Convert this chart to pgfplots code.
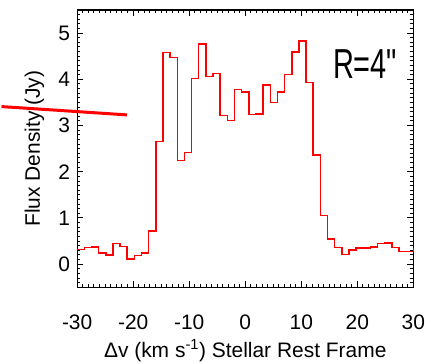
\documentclass[border=0pt]{standalone}
\usepackage{fontspec}
\setmainfont{Liberation Sans}
\newfontfamily\plainfont{Liberation Sans}
\usepackage{graphicx}
\usepackage{pgfplots}
\pgfplotsset{compat=1.18}
\begin{document}
\fontsize{21}{25}\selectfont
\begin{tikzpicture}
\begin{axis}[
 set layers,
 width=337pt, height=278pt, scale only axis,
 xmin=-30, xmax=30, ymin=-0.5, ymax=5.5,
 xtick={-30,-20,...,30}, xticklabels={-30,-20,-10,0,10,20,30},
 ytick={0,1,2,3,4,5}, yticklabels={0,1,2,3,4,5},
 minor xtick={-30,-29,...,30},
 minor ytick={-0.5,-0.4,...,5.5},
 tick align=inside, tick pos=both,
 major tick length=6pt, minor tick length=3pt,
 axis line style={line width=1.2pt},
 every tick/.style={black, line width=1pt},
 clip=false,
 xlabel={Δv (km s\textsuperscript{-1}) Stellar Rest Frame},
 ylabel={Flux Density (Jy)},
 ticklabel style={font=\fontsize{21}{25}\selectfont},
 xticklabel style={yshift=-20pt, inner xsep=0pt},
 label style={font=\fontsize{21}{25}\selectfont},
 xlabel style={inner sep=1pt, yshift=-2pt},
]
\addplot[red, line width=1.5pt, const plot mark left] coordinates {
(-30,0.32) (-28.72,0.36) (-27.45,0.37) (-26.17,0.24) (-24.89,0.20)
(-23.62,0.45) (-22.34,0.38) (-21.06,0.11) (-19.79,0.19) (-18.51,0.24)
(-17.23,0.72) (-15.96,2.65) (-14.68,4.58) (-13.40,4.47) (-12.13,2.24)
(-10.85,2.42) (-9.57,4.02) (-8.30,4.76) (-7.02,4.06) (-5.74,4.13)
(-4.47,3.22) (-3.19,3.11) (-1.91,3.78) (-0.64,3.73) (0.64,3.24)
(1.91,3.25) (3.19,3.88) (4.47,3.50) (5.74,3.73) (7.02,4.10)
(8.30,4.59) (9.57,4.83) (10.85,3.93) (12.13,2.36) (13.40,1.05)
(14.68,0.55) (15.96,0.36) (17.23,0.21) (18.51,0.31) (19.79,0.35)
(21.06,0.35) (22.34,0.37) (23.62,0.45) (24.89,0.46) (26.17,0.36)
(27.45,0.27) (28.72,0.27) (30,0.36)
};
\addplot[red, line width=3pt, on layer=axis foreground] coordinates {(-43.5,3.41) (-21.1,3.23)};
\node at (axis cs:21.4,4.33) {\scalebox{0.69}[1]{\plainfont\fontsize{42}{42}\selectfont R=4"}};
\end{axis}
\path ([yshift=10pt]current axis.north west) rectangle ([yshift=10pt]current axis.north east);
\end{tikzpicture}
\end{document}
